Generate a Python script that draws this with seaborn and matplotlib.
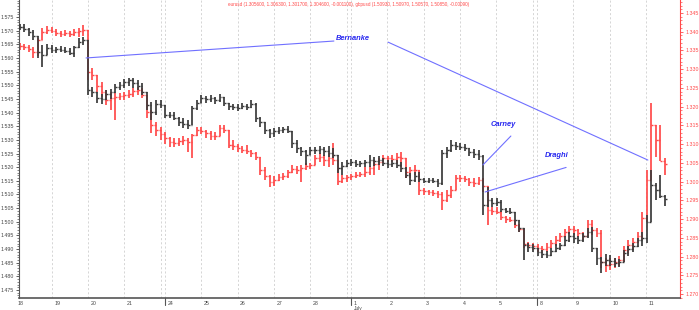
import numpy as np
import matplotlib
matplotlib.use("Agg")
import matplotlib.pyplot as plt
import matplotlib.transforms as mtransforms
from matplotlib.ticker import FixedLocator, MultipleLocator, FormatStrFormatter
import seaborn as sns

# ---------------- data ----------------
bar_hours = 3                      # one OHLC bar every 3 trading hours
first_bar_day = 0.125              # first bar, in trading days from 18 June 00:00

day_labels = ['18', '19', '20', '21', '24', '25', '26', '27', '28',
              '1', '2', '3', '4', '5', '8', '9', '10', '11']
day_starts = [0, 1, 2, 3, 4.12, 5.12, 6.12, 7.12, 8.12,
              9.24, 10.24, 11.24, 12.24, 13.24, 14.36, 15.36, 16.36, 17.36]
week_ends = [4.0, 9.12, 14.24]
week_starts = [4.12, 9.24, 14.36]
month_label = 'July'
month_start = 9.24

gbp_high = [1.5724, 1.5724, 1.5710, 1.5702, 1.5680, 1.5647, 1.5651, 1.5647, 1.5640, 1.5644,
            1.5640, 1.5636, 1.5644, 1.5673, 1.5677, 1.5666, 1.5494, 1.5475, 1.5468, 1.5483,
            1.5486, 1.5505, 1.5512, 1.5523, 1.5527, 1.5527, 1.5519, 1.5508, 1.5475, 1.5439,
            1.5446, 1.5446, 1.5428, 1.5402, 1.5402, 1.5384, 1.5380, 1.5373, 1.5424, 1.5446,
            1.5464, 1.5461, 1.5464, 1.5457, 1.5468, 1.5457, 1.5435, 1.5431, 1.5431, 1.5435,
            1.5431, 1.5446, 1.5435, 1.5384, 1.5365, 1.5340, 1.5343, 1.5347, 1.5347, 1.5351,
            1.5332, 1.5299, 1.5274, 1.5263, 1.5274, 1.5274, 1.5277, 1.5274, 1.5277, 1.5270,
            1.5245, 1.5219, 1.5226, 1.5230, 1.5226, 1.5223, 1.5226, 1.5245, 1.5237, 1.5241,
            1.5234, 1.5226, 1.5226, 1.5226, 1.5219, 1.5201, 1.5179, 1.5182, 1.5182, 1.5160,
            1.5160, 1.5160, 1.5157, 1.5263, 1.5274, 1.5299, 1.5292, 1.5288, 1.5285, 1.5270,
            1.5266, 1.5263, 1.5245, 1.5127, 1.5087, 1.5087, 1.5080, 1.5050, 1.5050, 1.5036,
            1.5006, 1.4977, 1.4922, 1.4918, 1.4904, 1.4897, 1.4893, 1.4904, 1.4918, 1.4922,
            1.4948, 1.4962, 1.4959, 1.4948, 1.4959, 1.4977, 1.4981, 1.4904, 1.4871, 1.4882,
            1.4878, 1.4867, 1.4864, 1.4897, 1.4911, 1.4922, 1.4940, 1.4962, 1.5025, 1.5190,
            1.5142, 1.5171, 1.5097]
gbp_low = [1.5702, 1.5695, 1.5680, 1.5666, 1.5600, 1.5567, 1.5611, 1.5618, 1.5618, 1.5622,
           1.5618, 1.5611, 1.5603, 1.5636, 1.5647, 1.5464, 1.5457, 1.5435, 1.5431, 1.5446,
           1.5450, 1.5472, 1.5483, 1.5490, 1.5497, 1.5490, 1.5483, 1.5464, 1.5409, 1.5373,
           1.5391, 1.5417, 1.5380, 1.5380, 1.5373, 1.5351, 1.5343, 1.5340, 1.5354, 1.5409,
           1.5435, 1.5435, 1.5439, 1.5431, 1.5439, 1.5424, 1.5409, 1.5409, 1.5406, 1.5413,
           1.5409, 1.5417, 1.5365, 1.5347, 1.5321, 1.5307, 1.5310, 1.5321, 1.5325, 1.5325,
           1.5270, 1.5252, 1.5241, 1.5208, 1.5245, 1.5248, 1.5248, 1.5241, 1.5237, 1.5234,
           1.5179, 1.5171, 1.5201, 1.5204, 1.5201, 1.5201, 1.5201, 1.5201, 1.5204, 1.5208,
           1.5204, 1.5197, 1.5201, 1.5197, 1.5182, 1.5160, 1.5135, 1.5146, 1.5146, 1.5142,
           1.5142, 1.5142, 1.5127, 1.5135, 1.5234, 1.5255, 1.5263, 1.5263, 1.5259, 1.5241,
           1.5234, 1.5226, 1.5025, 1.5054, 1.5054, 1.5058, 1.5036, 1.5032, 1.5028, 1.4988,
           1.4962, 1.4860, 1.4889, 1.4889, 1.4875, 1.4867, 1.4867, 1.4875, 1.4889, 1.4897,
           1.4911, 1.4926, 1.4922, 1.4918, 1.4926, 1.4940, 1.4889, 1.4842, 1.4812, 1.4838,
           1.4838, 1.4834, 1.4834, 1.4853, 1.4875, 1.4889, 1.4907, 1.4911, 1.4922, 1.4999,
           1.5080, 1.5087, 1.5057]
gbp_close = [1.5713, 1.5706, 1.5695, 1.5680, 1.5622, 1.5611, 1.5636, 1.5629, 1.5633, 1.5629,
             1.5625, 1.5618, 1.5640, 1.5658, 1.5666, 1.5483, 1.5475, 1.5453, 1.5450, 1.5468,
             1.5475, 1.5494, 1.5501, 1.5512, 1.5519, 1.5508, 1.5497, 1.5475, 1.5428, 1.5402,
             1.5431, 1.5428, 1.5391, 1.5391, 1.5380, 1.5365, 1.5358, 1.5354, 1.5417, 1.5435,
             1.5453, 1.5450, 1.5453, 1.5446, 1.5457, 1.5435, 1.5424, 1.5420, 1.5417, 1.5424,
             1.5420, 1.5431, 1.5380, 1.5365, 1.5336, 1.5325, 1.5332, 1.5336, 1.5340, 1.5332,
             1.5288, 1.5270, 1.5259, 1.5245, 1.5263, 1.5263, 1.5266, 1.5259, 1.5252, 1.5245,
             1.5197, 1.5204, 1.5215, 1.5219, 1.5212, 1.5215, 1.5219, 1.5226, 1.5223, 1.5226,
             1.5215, 1.5212, 1.5215, 1.5208, 1.5197, 1.5171, 1.5153, 1.5168, 1.5157, 1.5149,
             1.5153, 1.5149, 1.5142, 1.5252, 1.5263, 1.5281, 1.5277, 1.5274, 1.5270, 1.5255,
             1.5248, 1.5241, 1.5061, 1.5080, 1.5069, 1.5072, 1.5047, 1.5039, 1.5036, 1.5006,
             1.4977, 1.4915, 1.4907, 1.4904, 1.4889, 1.4882, 1.4878, 1.4893, 1.4904, 1.4915,
             1.4933, 1.4948, 1.4940, 1.4933, 1.4948, 1.4962, 1.4904, 1.4867, 1.4853, 1.4860,
             1.4856, 1.4849, 1.4853, 1.4886, 1.4900, 1.4911, 1.4933, 1.4940, 1.4999, 1.5135,
             1.5116, 1.5093, 1.5085]

eur_high = [1.3370, 1.3367, 1.3365, 1.3359, 1.3383, 1.3410, 1.3415, 1.3413, 1.3407, 1.3402,
            1.3405, 1.3402, 1.3407, 1.3410, 1.3418, 1.3405, 1.3303, 1.3285, 1.3266, 1.3245,
            1.3239, 1.3237, 1.3237, 1.3239, 1.3245, 1.3250, 1.3252, 1.3250, 1.3231, 1.3191,
            1.3159, 1.3146, 1.3132, 1.3119, 1.3116, 1.3116, 1.3122, 1.3116, 1.3127, 1.3146,
            1.3146, 1.3138, 1.3135, 1.3132, 1.3151, 1.3151, 1.3138, 1.3111, 1.3100, 1.3095,
            1.3098, 1.3084, 1.3079, 1.3066, 1.3039, 1.3018, 1.3015, 1.3020, 1.3023, 1.3031,
            1.3044, 1.3042, 1.3044, 1.3050, 1.3050, 1.3071, 1.3076, 1.3071, 1.3076, 1.3103,
            1.3058, 1.3018, 1.3018, 1.3020, 1.3026, 1.3026, 1.3039, 1.3042, 1.3058, 1.3063,
            1.3071, 1.3068, 1.3071, 1.3076, 1.3079, 1.3063, 1.3039, 1.3044, 1.3031, 1.2983,
            1.2978, 1.2978, 1.2975, 1.2972, 1.2978, 1.2988, 1.3018, 1.3018, 1.3015, 1.3010,
            1.3010, 1.3012, 1.3010, 1.2988, 1.2932, 1.2932, 1.2922, 1.2908, 1.2906, 1.2898,
            1.2887, 1.2874, 1.2839, 1.2836, 1.2833, 1.2828, 1.2836, 1.2844, 1.2855, 1.2863,
            1.2874, 1.2882, 1.2882, 1.2874, 1.2866, 1.2898, 1.2898, 1.2876, 1.2871, 1.2796,
            1.2796, 1.2796, 1.2801, 1.2828, 1.2844, 1.2849, 1.2866, 1.2919, 1.3031, 1.3210,
            1.3151, 1.3151, 1.3063]
eur_low = [1.3351, 1.3351, 1.3346, 1.3330, 1.3335, 1.3378, 1.3394, 1.3397, 1.3389, 1.3386,
           1.3389, 1.3386, 1.3389, 1.3386, 1.3389, 1.3271, 1.3271, 1.3239, 1.3226, 1.3205,
           1.3191, 1.3164, 1.3218, 1.3218, 1.3223, 1.3226, 1.3231, 1.3223, 1.3170, 1.3130,
           1.3122, 1.3111, 1.3100, 1.3092, 1.3092, 1.3095, 1.3098, 1.3079, 1.3063, 1.3122,
           1.3127, 1.3116, 1.3111, 1.3111, 1.3122, 1.3130, 1.3090, 1.3084, 1.3079, 1.3076,
           1.3074, 1.3066, 1.3058, 1.3018, 1.3004, 1.2986, 1.2988, 1.3002, 1.3004, 1.3010,
           1.3023, 1.3020, 1.2999, 1.3031, 1.3034, 1.3044, 1.3052, 1.3042, 1.3039, 1.3044,
           1.2991, 1.2996, 1.2999, 1.3004, 1.3010, 1.3012, 1.3012, 1.3018, 1.3018, 1.3031,
           1.3050, 1.3052, 1.3052, 1.3050, 1.3039, 1.3010, 1.3010, 1.3018, 1.2964, 1.2964,
           1.2964, 1.2962, 1.2956, 1.2924, 1.2946, 1.2956, 1.2978, 1.2999, 1.2999, 1.2988,
           1.2986, 1.2991, 1.2972, 1.2884, 1.2911, 1.2914, 1.2898, 1.2890, 1.2892, 1.2876,
           1.2866, 1.2823, 1.2823, 1.2817, 1.2812, 1.2809, 1.2812, 1.2823, 1.2828, 1.2839,
           1.2852, 1.2860, 1.2858, 1.2852, 1.2844, 1.2855, 1.2858, 1.2852, 1.2769, 1.2759,
           1.2764, 1.2769, 1.2775, 1.2785, 1.2809, 1.2817, 1.2836, 1.2844, 1.2892, 1.3004,
           1.3066, 1.3055, 1.3017]
eur_close = [1.3362, 1.3359, 1.3354, 1.3346, 1.3378, 1.3399, 1.3405, 1.3402, 1.3397, 1.3394,
             1.3397, 1.3394, 1.3399, 1.3402, 1.3405, 1.3293, 1.3285, 1.3255, 1.3239, 1.3218,
             1.3223, 1.3226, 1.3228, 1.3231, 1.3234, 1.3242, 1.3245, 1.3231, 1.3186, 1.3151,
             1.3138, 1.3127, 1.3116, 1.3106, 1.3103, 1.3108, 1.3111, 1.3106, 1.3124, 1.3138,
             1.3135, 1.3130, 1.3122, 1.3122, 1.3143, 1.3138, 1.3098, 1.3095, 1.3090, 1.3084,
             1.3082, 1.3076, 1.3066, 1.3031, 1.3015, 1.2999, 1.3004, 1.3012, 1.3015, 1.3026,
             1.3034, 1.3031, 1.3036, 1.3042, 1.3044, 1.3063, 1.3066, 1.3058, 1.3063, 1.3058,
             1.3002, 1.3010, 1.3012, 1.3015, 1.3018, 1.3020, 1.3026, 1.3036, 1.3047, 1.3052,
             1.3063, 1.3063, 1.3060, 1.3066, 1.3063, 1.3026, 1.3031, 1.3031, 1.2978, 1.2975,
             1.2972, 1.2970, 1.2967, 1.2951, 1.2964, 1.2978, 1.3010, 1.3010, 1.3007, 1.2999,
             1.2996, 1.3004, 1.2988, 1.2924, 1.2922, 1.2919, 1.2906, 1.2900, 1.2898, 1.2884,
             1.2874, 1.2833, 1.2831, 1.2828, 1.2823, 1.2820, 1.2825, 1.2836, 1.2844, 1.2855,
             1.2866, 1.2874, 1.2871, 1.2863, 1.2855, 1.2887, 1.2871, 1.2863, 1.2785, 1.2777,
             1.2780, 1.2785, 1.2791, 1.2817, 1.2831, 1.2839, 1.2855, 1.2903, 1.3004, 1.3151,
             1.3111, 1.3056, 1.3046]

title_text = ("eurusd (1.305600, 1.306300, 1.301700, 1.304600, -0.001100), "
              "gbpusd (1.50930, 1.50970, 1.50570, 1.50850, -0.00090)")

left_ticks = [1.475, 1.480, 1.485, 1.490, 1.495, 1.500, 1.505, 1.510, 1.515, 1.520, 1.525,
              1.530, 1.535, 1.540, 1.545, 1.550, 1.555, 1.560, 1.565, 1.570, 1.575]
right_ticks = [1.270, 1.275, 1.280, 1.285, 1.290, 1.295, 1.300, 1.305, 1.310, 1.315,
               1.320, 1.325, 1.330, 1.335, 1.340, 1.345]

# annotations: (label, label position, line start, line end) in (day, gbpusd) units
notes = [
    ("Bernanke", (8.83, 1.5673), [(1.95, 1.5600), (8.77, 1.5662)]),
    ("", None, [(10.26, 1.5658), (17.41, 1.5226)]),
    ("Carney", (13.07, 1.5358), [(12.87, 1.5208), (13.64, 1.5314)]),
    ("Draghi", (14.58, 1.5241), [(12.93, 1.5109), (15.16, 1.5199)]),
]

# ---------------- figure ----------------
sns.set_theme(style="white")
plt.rcParams['font.family'] = ['Liberation Sans', 'DejaVu Sans']

W, H = 699, 310
fig = plt.figure(figsize=(W / 100, H / 100), dpi=100)
ax = fig.add_axes([19 / W, 12 / H, 661 / W, 298 / H])
ax2 = ax.twinx()
ax.set_zorder(ax2.get_zorder() + 1)
ax.patch.set_visible(False)

n = len(gbp_close)
for arr in (gbp_high, gbp_low, eur_high, eur_low, eur_close):
    assert len(arr) == n
x = first_bar_day + np.arange(n) * bar_hours / 24.0
half = 0.05

ax.set_xlim(0.1046, 18.294)
ax.set_ylim(1.47207, 1.58123)
ax2.set_ylim(1.26894, 1.34847)


def draw_ohlc(a, hi, lo, cl, color, lw):
    hi = np.asarray(hi); lo = np.asarray(lo); cl = np.asarray(cl)
    op = np.r_[cl[0], cl[:-1]]
    top = np.maximum(hi, np.maximum(op, cl))
    bot = np.minimum(lo, np.minimum(op, cl))
    a.vlines(x, bot, top, color=color, lw=lw, zorder=3)
    a.hlines(op, x - half, x, color=color, lw=lw * 0.8, zorder=3)
    a.hlines(cl, x, x + half, color=color, lw=lw * 0.8, zorder=3)


# day grid
grid_kw = dict(color='#cfcfcf', lw=0.6, ls=(0, (2.5, 2.5)), zorder=0)
for d in list(day_starts) + list(week_ends):
    ax2.axvline(d, **grid_kw)

draw_ohlc(ax2, eur_high, eur_low, eur_close, '#ff4a4a', 1.25)
draw_ohlc(ax, gbp_high, gbp_low, gbp_close, '#3a3a3a', 1.25)

# annotations
for label, pos, seg in notes:
    xs = [seg[0][0], seg[1][0]]
    ys = [seg[0][1], seg[1][1]]
    sns.lineplot(x=xs, y=ys, ax=ax, color='#7070ff', lw=0.8, sort=False,
                 estimator=None, zorder=4)
    if label:
        ax.text(pos[0], pos[1], label, color='#2828f0', fontsize=5.4,
                fontweight='bold', fontstyle='italic', ha='left', va='center',
                zorder=5)

# spines
for s in ('top', 'right'):
    ax.spines[s].set_visible(False)
for s in ('top', 'left', 'bottom'):
    ax2.spines[s].set_visible(False)
ax.spines['left'].set_color('#555555')
ax.spines['left'].set_linewidth(0.8)
ax.spines['bottom'].set_color('#555555')
ax.spines['bottom'].set_linewidth(1.2)
ax2.spines['right'].set_color('#ff4a4a')
ax2.spines['right'].set_linewidth(0.8)

# y ticks
ax.yaxis.set_major_locator(FixedLocator(left_ticks))
ax.yaxis.set_major_formatter(FormatStrFormatter('%.3f'))
ax.yaxis.set_minor_locator(MultipleLocator(0.001))
ax.tick_params(axis='y', which='major', length=2.5, width=0.6, pad=1.2,
               labelsize=3.8, colors='#444444', left=True)
ax.tick_params(axis='y', which='minor', length=1.3, width=0.5, colors='#555555', left=True)

ax2.yaxis.set_major_locator(FixedLocator(right_ticks))
ax2.yaxis.set_major_formatter(FormatStrFormatter('%.3f'))
ax2.yaxis.set_minor_locator(MultipleLocator(0.001))
ax2.tick_params(axis='y', which='major', length=2.5, width=0.6, pad=1.2,
                labelsize=3.8, colors='#ff4a4a', right=True)
ax2.tick_params(axis='y', which='minor', length=1.3, width=0.5, colors='#ff4a4a', right=True)

# x labels (days) drawn right of each day line
ax.set_xticks([])
ax2.set_xticks([])
xtr = ax.get_xaxis_transform()
off = mtransforms.ScaledTranslation(0, -2.0 / 72, fig.dpi_scale_trans)
for d, lab in zip(day_starts, day_labels):
    ax.text(d + 0.07, 0, lab, transform=xtr + off, fontsize=3.8, color='#444444',
            ha='left', va='top', clip_on=False)
for d in week_starts:
    ax.plot([d, d], [0, -0.025], transform=xtr, color='#555555', lw=0.8,
            clip_on=False, zorder=5)
off2 = mtransforms.ScaledTranslation(0, -5.6 / 72, fig.dpi_scale_trans)
ax.text(month_start + 0.07, 0, month_label, transform=xtr + off2, fontsize=3.5,
        color='#444444', ha='left', va='top', clip_on=False)

fig.text(349 / W, 1 - 4.5 / H, title_text, color='#ff4a4a', fontsize=3.3,
         ha='center', va='center')

fig.savefig('out.png', dpi=100)
